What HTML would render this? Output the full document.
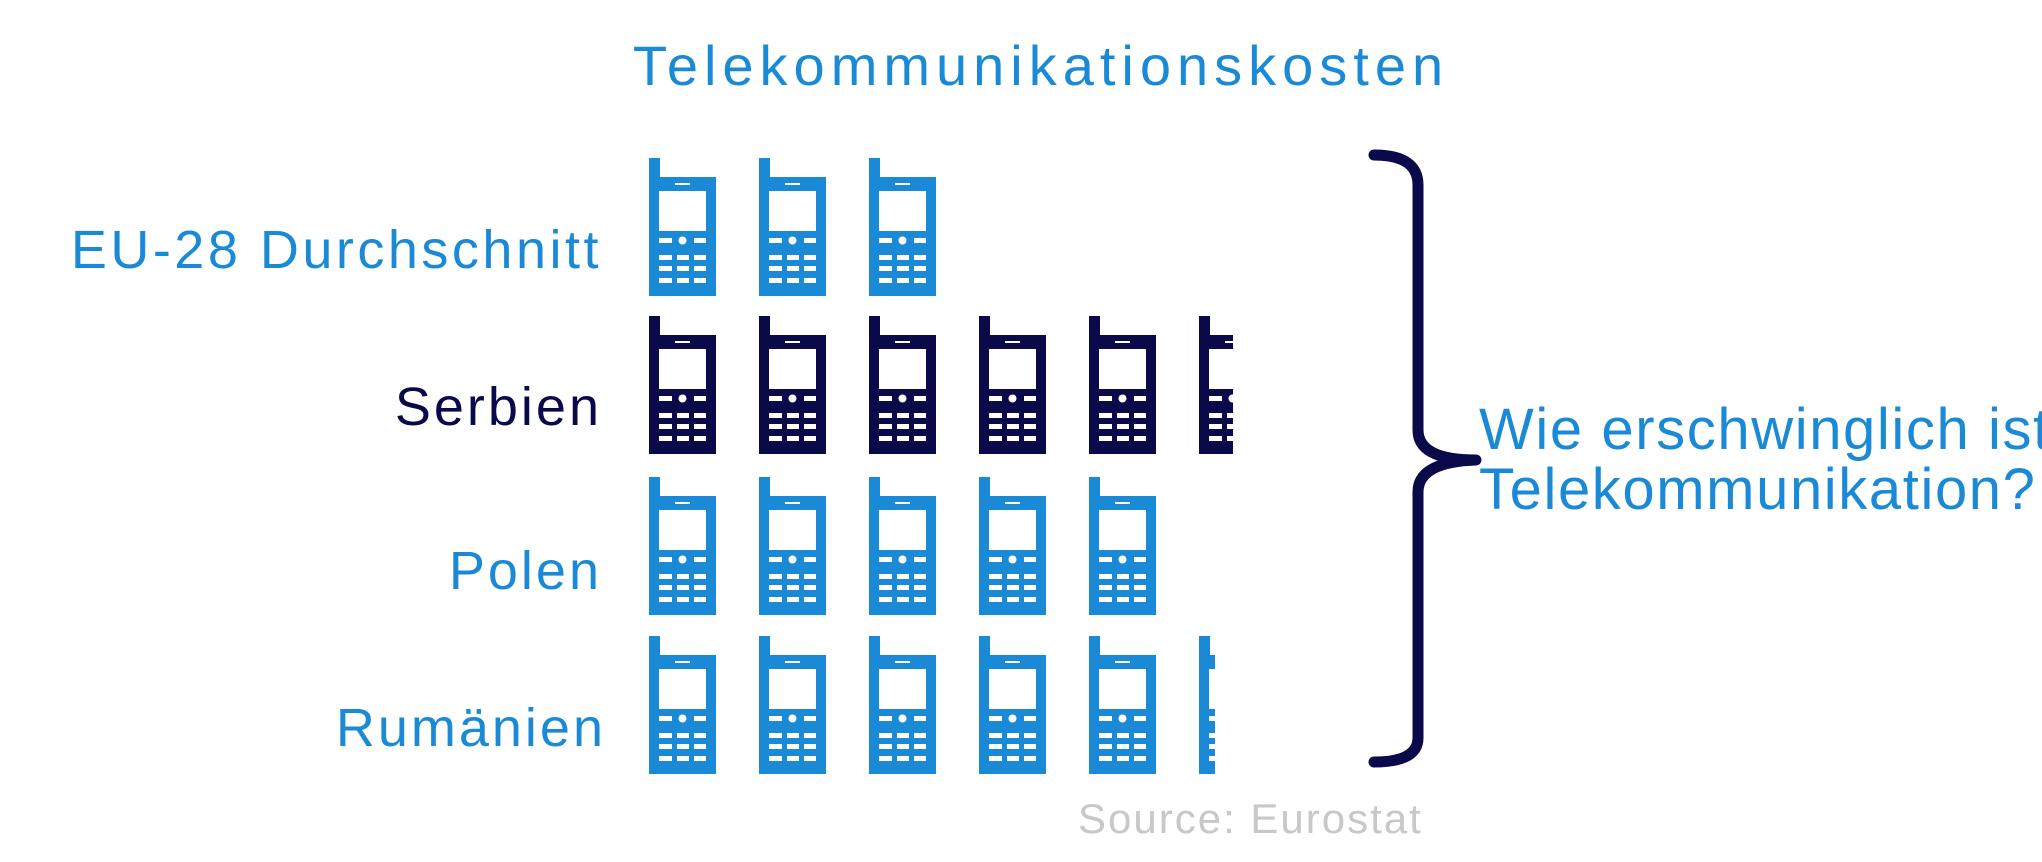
<!DOCTYPE html>
<html><head><meta charset="utf-8"><style>
html,body{margin:0;padding:0;background:#fff;}
body{width:2042px;height:862px;position:relative;overflow:hidden;font-family:"Liberation Sans",sans-serif;}
.t{position:absolute;white-space:nowrap;font-size:54px;line-height:1;color:#1a8ad6;letter-spacing:3px;}
</style></head><body>
<svg width="2042" height="862" style="position:absolute;left:0;top:0">
<defs>
<g id="ph">
<rect x="0" y="0" width="11" height="20"/>
<rect x="0" y="19" width="67" height="119"/>
<g fill="#fff">
<rect x="26" y="25" width="15" height="2"/>
<rect x="10" y="33" width="47" height="40"/>
<rect x="10" y="80" width="13" height="5"/>
<rect x="45" y="80" width="12" height="5"/>
<circle cx="33.5" cy="82.5" r="4"/>
<rect x="10" y="97" width="13" height="5"/><rect x="28" y="97" width="12" height="5"/><rect x="45" y="97" width="12" height="5"/>
<rect x="10" y="108" width="13" height="5"/><rect x="28" y="108" width="12" height="5"/><rect x="45" y="108" width="12" height="5"/>
<rect x="10" y="120" width="13" height="5"/><rect x="28" y="120" width="12" height="5"/><rect x="45" y="120" width="12" height="5"/>
</g>
</g>
<clipPath id="c2"><rect x="0" y="0" width="1233" height="862"/></clipPath>
<clipPath id="c4"><rect x="0" y="0" width="1215" height="862"/></clipPath>
</defs>
<g fill="#1a8ad6">
<use href="#ph" x="649" y="158"/><use href="#ph" x="759" y="158"/><use href="#ph" x="869" y="158"/>
</g>
<g fill="#0a0a4a" clip-path="url(#c2)">
<use href="#ph" x="649" y="316"/><use href="#ph" x="759" y="316"/><use href="#ph" x="869" y="316"/>
<use href="#ph" x="979" y="316"/><use href="#ph" x="1089" y="316"/><use href="#ph" x="1199" y="316"/>
</g>
<g fill="#1a8ad6">
<use href="#ph" x="649" y="477"/><use href="#ph" x="759" y="477"/><use href="#ph" x="869" y="477"/>
<use href="#ph" x="979" y="477"/><use href="#ph" x="1089" y="477"/>
</g>
<g fill="#1a8ad6" clip-path="url(#c4)">
<use href="#ph" x="649" y="636"/><use href="#ph" x="759" y="636"/><use href="#ph" x="869" y="636"/>
<use href="#ph" x="979" y="636"/><use href="#ph" x="1089" y="636"/><use href="#ph" x="1199" y="636"/>
</g>
<path d="M1374 155 Q1418 155 1418 185 L1418 430 Q1418 460 1476 460 Q1418 462 1418 492 L1418 738 Q1418 762 1374 762" fill="none" stroke="#0a0a4a" stroke-width="11" stroke-linecap="round" stroke-linejoin="round"/>
</svg>
<div class="t" style="left:0;width:2082px;text-align:center;top:38px;font-size:56px;letter-spacing:6px;">Telekommunikationskosten</div>
<div class="t" style="right:1440px;top:223px;letter-spacing:3.5px;">EU-28 Durchschnitt</div>
<div class="t" style="right:1440px;top:380px;color:#0a0a4a;">Serbien</div>
<div class="t" style="right:1440px;top:544px;">Polen</div>
<div class="t" style="right:1436px;top:701px;">Rumänien</div>
<div class="t" style="left:1479px;top:400px;font-size:58px;letter-spacing:1.6px;line-height:60px;">Wie erschwinglich ist<br>Telekommunikation?</div>
<div class="t" style="left:1078px;top:798px;font-size:42px;color:#c8c8c8;letter-spacing:2px;">Source: Eurostat</div>
</body></html>
